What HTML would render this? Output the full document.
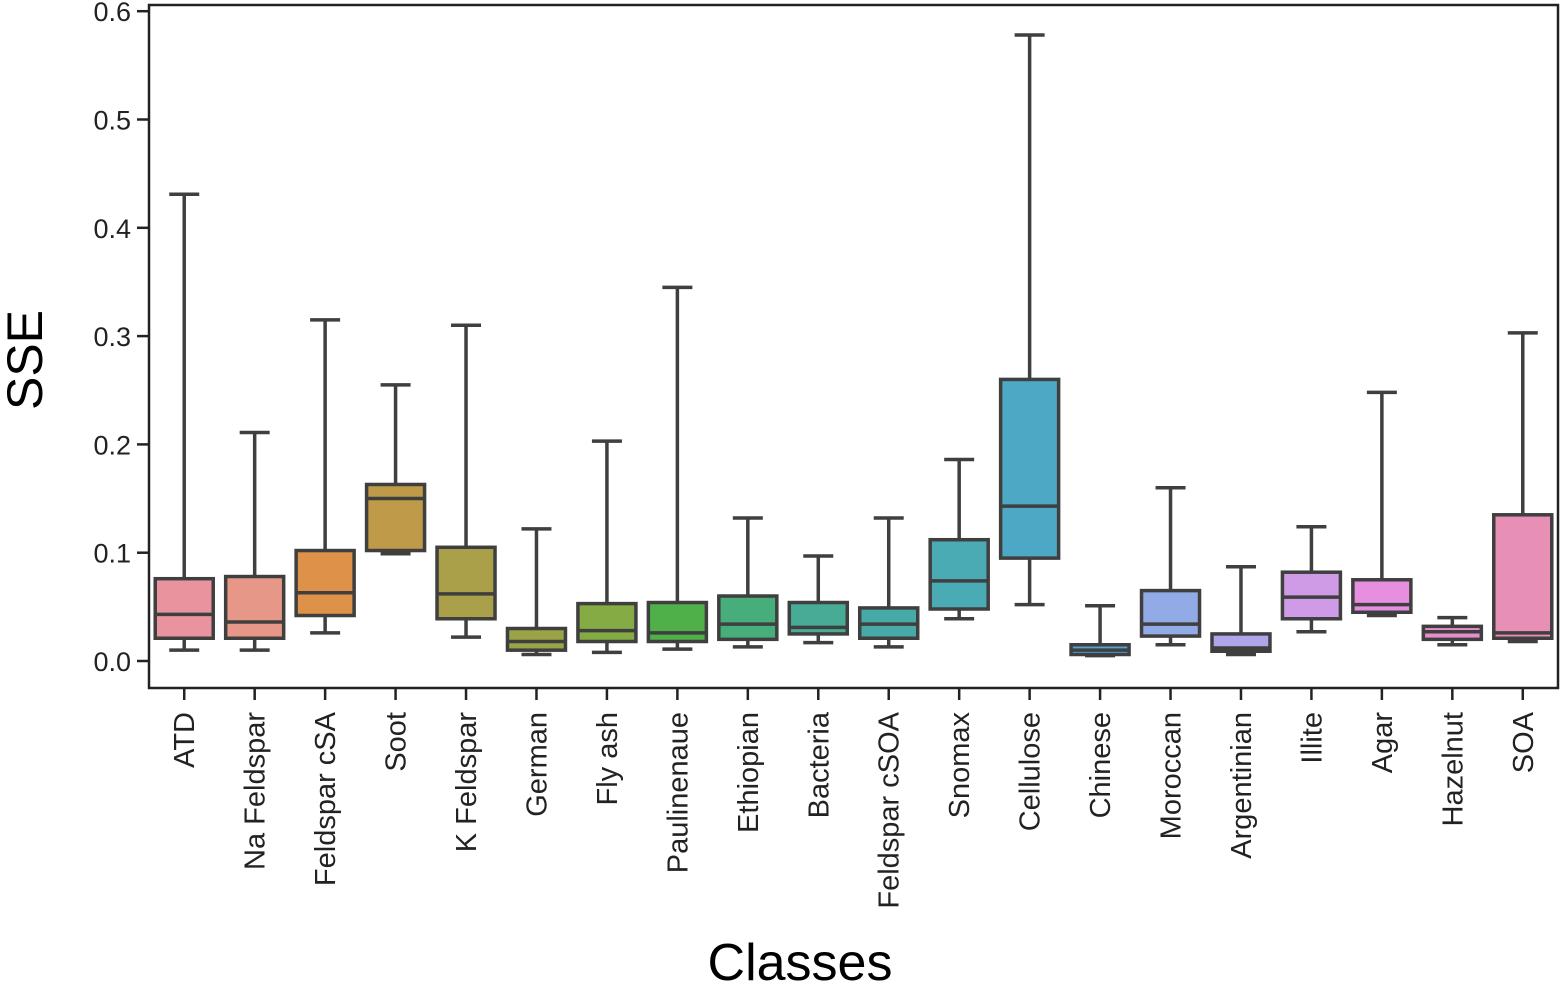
<!DOCTYPE html>
<html><head><meta charset="utf-8">
<style>
html,body{margin:0;padding:0;background:#fff;}
svg{display:block;font-family:"Liberation Sans",Arial,sans-serif;}
</style></head>
<body>
<svg id="chart" width="1561" height="981" viewBox="0 0 1561 981" xmlns="http://www.w3.org/2000/svg">
<g id="plot"></g>
<text x="0" y="0" transform="translate(42,360) rotate(-90)" text-anchor="middle" font-size="50" fill="#000">SSE</text>
<text x="800" y="980" text-anchor="middle" font-size="52" fill="#000">Classes</text>
</svg>
<script>
const categories = ["ATD","Na Feldspar","Feldspar cSA","Soot","K Feldspar","German","Fly ash","Paulinenaue","Ethiopian","Bacteria","Feldspar cSOA","Snomax","Cellulose","Chinese","Moroccan","Argentinian","Illite","Agar","Hazelnut","SOA"];
const whiskerHigh = [0.431,0.211,0.315,0.255,0.310,0.122,0.203,0.345,0.132,0.097,0.132,0.186,0.578,0.051,0.160,0.087,0.124,0.248,0.040,0.303];
const q3Values = [0.076,0.078,0.102,0.163,0.105,0.030,0.053,0.054,0.060,0.054,0.049,0.112,0.260,0.015,0.065,0.025,0.082,0.075,0.032,0.135];
const medianValues = [0.043,0.036,0.063,0.150,0.062,0.018,0.028,0.026,0.034,0.031,0.034,0.074,0.143,0.010,0.034,0.012,0.059,0.052,0.027,0.026];
const q1Values = [0.021,0.021,0.042,0.102,0.039,0.010,0.018,0.018,0.020,0.025,0.021,0.048,0.095,0.006,0.023,0.009,0.039,0.045,0.020,0.021];
const whiskerLow = [0.010,0.010,0.026,0.099,0.022,0.006,0.008,0.011,0.013,0.017,0.013,0.039,0.052,0.005,0.015,0.006,0.027,0.042,0.015,0.018];
const boxColors = ["#e8939e","#e79787","#dd9149","#bf9a49","#aba04a","#9aa446","#84ab44","#4fb04a","#47ad7b","#48ab96","#48aaa6","#4aabb5","#4ca8c4","#55a2d8","#92aae6","#aea6e8","#cf9be7","#e68fe0","#e48fcc","#e78fb5"];
const yTicks = [0.0,0.1,0.2,0.3,0.4,0.5,0.6];
const yTickLabels = ["0.0","0.1","0.2","0.3","0.4","0.5","0.6"];

const L=149,R=1558,T=5,B=688;
const y0=661, pxPerUnit=1083;
function yScale(v){return y0 - v*pxPerUnit;}
const step=(R-L)/categories.length;
function xScale(i){return L + step*(i+0.5);}
const NS="http://www.w3.org/2000/svg";
const g=document.getElementById('plot');
function mk(tag,attrs){const e=document.createElementNS(NS,tag);for(const k in attrs)e.setAttribute(k,attrs[k]);g.appendChild(e);return e;}
const dark="#3f3f3f";
categories.forEach((c,i)=>{
  const cx=xScale(i), bw=58, cap=15;
  const w1=mk('line',{x1:cx,x2:cx,y1:yScale(whiskerHigh[i]),y2:yScale(q3Values[i]),stroke:dark,'stroke-width':3.5});
  
  
  const w2=mk('line',{x1:cx,x2:cx,y1:yScale(q1Values[i]),y2:yScale(whiskerLow[i]),stroke:dark,'stroke-width':3.5});
  
  
  const c1=mk('line',{x1:cx-cap,x2:cx+cap,y1:yScale(whiskerHigh[i]),y2:yScale(whiskerHigh[i]),stroke:dark,'stroke-width':3.5});
  
  
  const c2=mk('line',{x1:cx-cap,x2:cx+cap,y1:yScale(whiskerLow[i]),y2:yScale(whiskerLow[i]),stroke:dark,'stroke-width':3.5});
  
  
  const bx=mk('rect',{x:cx-bw/2,y:yScale(q3Values[i]),width:bw,height:yScale(q1Values[i])-yScale(q3Values[i]),fill:boxColors[i],stroke:dark,'stroke-width':3.5});
  
  
  const md=mk('line',{x1:cx-bw/2,x2:cx+bw/2,y1:yScale(medianValues[i]),y2:yScale(medianValues[i]),stroke:dark,'stroke-width':3.5});
  
  
  const tk=mk('line',{x1:cx,x2:cx,y1:B,y2:B+12,stroke:'#222','stroke-width':2.5});
  
  
  const lb=mk('text',{transform:`translate(${cx+10},${B+24}) rotate(-90)`,'text-anchor':'end','font-size':29,fill:'#222'});
  lb.textContent=c;
  
  
});
yTicks.forEach((v,i)=>{
  const y=yScale(v);
  const tk=mk('line',{x1:L-12,x2:L,y1:y,y2:y,stroke:'#222','stroke-width':2.5});
  
  
  const lb=mk('text',{x:L-18,y:y+10,'text-anchor':'end','font-size':27,fill:'#222'});
  lb.textContent=yTickLabels[i];
  
  
});
const fr=mk('rect',{x:L,y:T,width:R-L,height:B-T,fill:'none',stroke:'#222','stroke-width':2.5});


</script>
</body></html>
